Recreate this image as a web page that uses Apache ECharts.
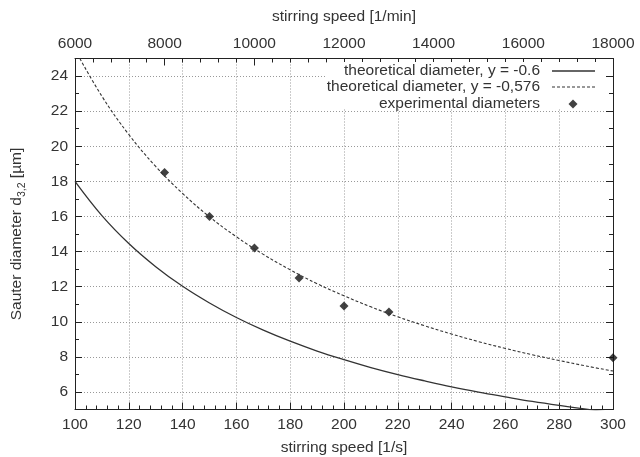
<!DOCTYPE html>
<html>
<head>
<meta charset="utf-8">
<script src="https://cdn.jsdelivr.net/npm/echarts@6/dist/echarts.min.js"></script>
<style>html,body{margin:0;padding:0;background:#fff;}#c{width:640px;height:457px;}</style>
</head>
<body>
<div id="c"></div>
<script>
// stirring speed [1/s] sample positions for the theoretical curves
const speedS = [100,110,120,130,140,150,160,170,180,190,200,210,220,230,240,250,260,270,280,290,300];
// theoretical diameter, y = -0.6
const dSolid = [18.0,16.05,14.46,13.14,12.02,11.07,10.24,9.52,8.89,8.33,7.84,7.39,6.99,6.63,6.29,5.99,5.72,5.46,5.23,5.02,4.82];
// theoretical diameter, y = -0,576
const dDashed = [25.5,22.85,20.67,18.85,17.31,15.98,14.84,13.84,12.96,12.17,11.48,10.85,10.28,9.77,9.30,8.87,8.48,8.12,7.79,7.48,7.19];
// experimental diameters
const expSpeed = [133.3,150,166.7,183.3,200,216.7,300];
const expDiam = [18.5,16.0,14.2,12.5,10.9,10.55,7.95];

const names = ['theoretical diameter, y = -0.6','theoretical diameter, y = -0,576','experimental diameters'];

const FONT = 'Liberation Sans';
const FS = 15.5;
const TXT = '#333';
const axisLine = {show:true, onZero:false, lineStyle:{color:'#222', width:1}};
const tick = {show:true, inside:true, length:7, lineStyle:{color:'#222'}};
const minor = (n)=>({show:true, splitNumber:n, length:4, lineStyle:{color:'#222'}});
const grid = {show:true, lineStyle:{color:'#999', type:[1,2], width:1}};

const solidIcon = 'path://M0,0h43v1.3h-43z';
let dp = '';
for (let x = 0; x < 43; x += 5) dp += 'M' + x + ',0h3v1.1h-3z';
const dashIcon = 'path://' + dp;

const chart = echarts.init(document.getElementById('c'));
chart.setOption({
  animation:false,
  backgroundColor:'#fff',
  textStyle:{fontFamily:FONT, color:TXT},
  grid:{left:75, right:27, top:58.5, bottom:47.5, containLabel:false, outerBoundsMode:'none'},
  xAxis:[
    {type:'value', position:'bottom', min:100, max:300, interval:20,
     name:'stirring speed [1/s]', nameLocation:'middle', nameGap:30,
     nameTextStyle:{fontFamily:FONT, fontSize:FS, color:TXT},
     axisLine:axisLine, axisTick:tick, minorTick:minor(5), splitLine:grid,
     axisLabel:{fontFamily:FONT, fontSize:FS, color:TXT, margin:7, formatter:(v)=>String(v)}},
    {type:'value', position:'top', min:6000, max:18000, interval:2000,
     name:'stirring speed [1/min]', nameLocation:'middle', nameGap:34,
     nameTextStyle:{fontFamily:FONT, fontSize:FS, color:TXT},
     axisLine:axisLine, axisTick:tick, minorTick:minor(5), splitLine:{show:false},
     axisLabel:{fontFamily:FONT, fontSize:FS, color:TXT, margin:7, formatter:(v)=>String(v)}}
  ],
  yAxis:[
    {type:'value', position:'left', min:5, max:25, splitNumber:10,
     name:'Sauter diameter d{s|3,2} [µm]', nameLocation:'middle', nameGap:47, nameRotate:90,
     nameTextStyle:{fontFamily:FONT, fontSize:FS, color:TXT,
       rich:{s:{fontFamily:FONT, fontSize:10.5, color:TXT, lineHeight:23, verticalAlign:'bottom'}}},
     axisLine:axisLine, axisTick:tick, minorTick:minor(2), splitLine:grid,
     axisLabel:{fontFamily:FONT, fontSize:FS, color:TXT, margin:7, showMinLabel:false, showMaxLabel:false}},
    {type:'value', position:'right', min:5, max:25, splitNumber:10,
     axisLine:axisLine, axisTick:tick, minorTick:minor(2), splitLine:{show:false},
     axisLabel:{show:false}}
  ],
  legend:[
    {data:[{name:names[0], icon:solidIcon, itemStyle:{color:'#333'}}], right:45, top:63, padding:0, itemWidth:43, itemHeight:1.3, selectedMode:false, z:6,
     align:'right', textStyle:{fontFamily:FONT, fontSize:FS, color:TXT, padding:[0,7,0,0]}},
    {data:[{name:names[1], icon:dashIcon, itemStyle:{color:'#333'}}], right:35, top:62, padding:[17,10,14,0], backgroundColor:'#fff', itemWidth:43, itemHeight:1.1, selectedMode:false, z:5,
     align:'right', textStyle:{fontFamily:FONT, fontSize:FS, color:TXT, padding:[0,7,0,0]}},
    {data:[names[2]], right:62.5, top:96, padding:0, itemWidth:9, itemHeight:9, selectedMode:false, z:6,
     align:'right', textStyle:{fontFamily:FONT, fontSize:FS, color:TXT, padding:[0,23.5,0,0]}}
  ],
  series:[
    {name:names[0], type:'line', xAxisIndex:0, yAxisIndex:0, symbol:'none', smooth:0.4, clip:true,
     data:speedS.map((x,i)=>[x,dSolid[i]]),
     lineStyle:{color:'#333', width:1.3, type:'solid'}, itemStyle:{color:'#333'}},
    {name:names[1], type:'line', xAxisIndex:0, yAxisIndex:0, symbol:'none', smooth:0.4, clip:true,
     data:speedS.map((x,i)=>[x,dDashed[i]]),
     lineStyle:{color:'#333', width:1.1, type:[3,2]}, itemStyle:{color:'#333'}},
    {name:names[2], type:'scatter', xAxisIndex:0, yAxisIndex:0, symbol:'diamond', symbolSize:9, clip:false,
     data:expSpeed.map((x,i)=>[x,expDiam[i]]),
     itemStyle:{color:'#111'}}
  ]
});
</script>
</body>
</html>
